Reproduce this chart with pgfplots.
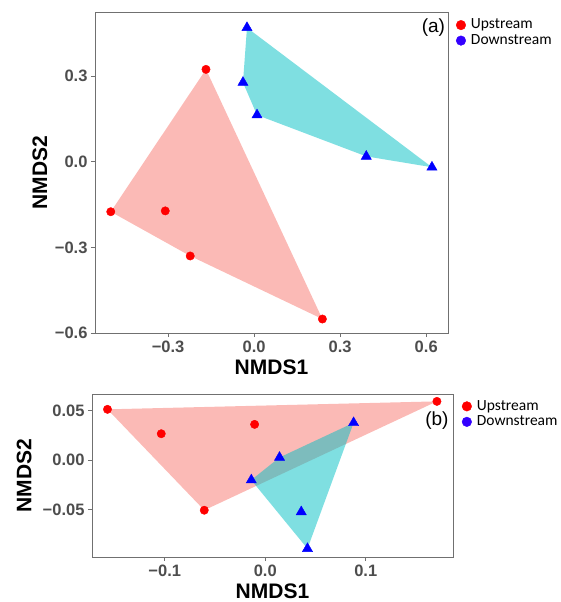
\documentclass[border=0pt]{standalone}
\usepackage{fontspec}
\setmainfont{Liberation Sans}
\newfontfamily\calib{Carlito}
\usepackage{pgfplots}
\pgfplotsset{compat=1.18}
\definecolor{hullred}{HTML}{F8766D}
\definecolor{hullcyan}{HTML}{00BFC4}
\definecolor{tickgray}{HTML}{4D4D4D}
\definecolor{framegray}{HTML}{707070}
\definecolor{legblue}{HTML}{3300FF}
\definecolor{ptred}{HTML}{FF0000}
\definecolor{ptblue}{HTML}{0000FF}
\pgfplotsset{
  mystyle/.style={
    scale only axis,
    axis line style={framegray, line width=0.9pt},
    tick style={framegray, line width=0.9pt},
    tick align=outside,
    major tick length=4pt,
    xtick pos=lower, ytick pos=left,
    scaled ticks=false,
    ticklabel style={font=\fontsize{16.5}{16.5}\selectfont\bfseries, text=tickgray},
    label style={font=\fontsize{21}{21}\selectfont\bfseries},
    legend style={draw=none, fill=none, inner sep=0pt, anchor=north west,
      font=\calib\fontsize{15.5}{15.5}\selectfont, row sep=0pt, column sep=4pt,
      nodes={inner sep=1pt, text height=10.5pt, text depth=3pt}},
    legend cell align=left,
    legend image code/.code={\fill[#1] (4.8pt,0pt) circle (4.8pt);},
  }
}
\begin{document}
\begin{tikzpicture}
\path[use as bounding box] (0,0) rectangle (561pt,-602pt);
% ---------------- panel (a)
\begin{axis}[mystyle,
  at={(95pt,-12pt)}, anchor=north west, width=353pt, height=321pt,
  xmin=-0.555, xmax=0.676, ymin=-0.6, ymax=0.525,
  xtick={-0.3,0,0.3,0.6}, xticklabels={−0.3,0.0,0.3,0.6},
  ytick={-0.6,-0.3,0,0.3}, yticklabels={−0.6,−0.3,0.0,0.3},
  xlabel={NMDS1}, ylabel={NMDS2},
  xlabel style={at={(axis description cs:0.5,-0.106)}, anchor=center},
  ylabel style={at={(axis description cs:-0.156,0.5)}, anchor=center},
  legend style={at={(axis description cs:1.022,0.984)}},
]
\addplot[fill=hullred, fill opacity=0.5, draw=none, forget plot]
  coordinates {(-0.168,0.324) (0.238,-0.551) (-0.223,-0.330) (-0.500,-0.175)} -- cycle;
\addplot[fill=hullcyan, fill opacity=0.5, draw=none, forget plot]
  coordinates {(-0.025,0.470) (-0.039,0.278) (0.010,0.164) (0.391,0.019) (0.620,-0.019)} -- cycle;
\addplot[only marks, mark=*, mark size=4.2pt, ptred, forget plot]
  coordinates {(-0.168,0.324) (-0.500,-0.175) (-0.310,-0.172) (-0.223,-0.330) (0.238,-0.551)};
\addplot[only marks, mark=triangle*, mark size=5.9pt, ptblue, forget plot]
  coordinates {(-0.025,0.470) (-0.039,0.278) (0.010,0.164) (0.391,0.019) (0.620,-0.019)};
\addlegendimage{ptred}
\addlegendentry{Upstream}
\addlegendimage{legblue}
\addlegendentry{Downstream}
\node[anchor=east, inner sep=0pt, font=\fontsize{19}{19}\selectfont] at (axis description cs:0.992,0.95) {(a)};
\end{axis}
% ---------------- panel (b)
\begin{axis}[mystyle,
  at={(92pt,-394pt)}, anchor=north west, width=361pt, height=163pt,
  xmin=-0.1724, xmax=0.1868, ymin=-0.0973, ymax=0.0664,
  xtick={-0.1,0,0.1}, xticklabels={−0.1,0.0,0.1},
  ytick={-0.05,0,0.05}, yticklabels={−0.05,0.00,0.05},
  xlabel={NMDS1}, ylabel={NMDS2},
  xlabel style={at={(axis description cs:0.5,-0.209)}, anchor=center},
  ylabel style={at={(axis description cs:-0.188,0.5)}, anchor=center},
  legend style={at={(axis description cs:1.024,0.973)}},
]
\addplot[fill=hullred, fill opacity=0.5, draw=none, forget plot]
  coordinates {(-0.157,0.051) (0.1708,0.059) (-0.0607,-0.0503)} -- cycle;
\addplot[fill=hullcyan, fill opacity=0.5, draw=none, forget plot]
  coordinates {(-0.0139,-0.020) (0.0142,0.0027) (0.0879,0.0375) (0.042,-0.0889)} -- cycle;
\addplot[only marks, mark=*, mark size=4.2pt, ptred, forget plot]
  coordinates {(-0.157,0.051) (-0.1035,0.0265) (-0.0106,0.0359) (-0.0607,-0.0503) (0.1708,0.059)};
\addplot[only marks, mark=triangle*, mark size=5.9pt, ptblue, forget plot]
  coordinates {(-0.0139,-0.020) (0.0142,0.0027) (0.0879,0.0375) (0.0358,-0.052) (0.042,-0.0889)};
\addlegendimage{ptred}
\addlegendentry{Upstream}
\addlegendimage{legblue}
\addlegendentry{Downstream}
\node[anchor=east, inner sep=0pt, font=\fontsize{19}{19}\selectfont] at (axis description cs:0.988,0.836) {(b)};
\end{axis}
\end{tikzpicture}
\end{document}
